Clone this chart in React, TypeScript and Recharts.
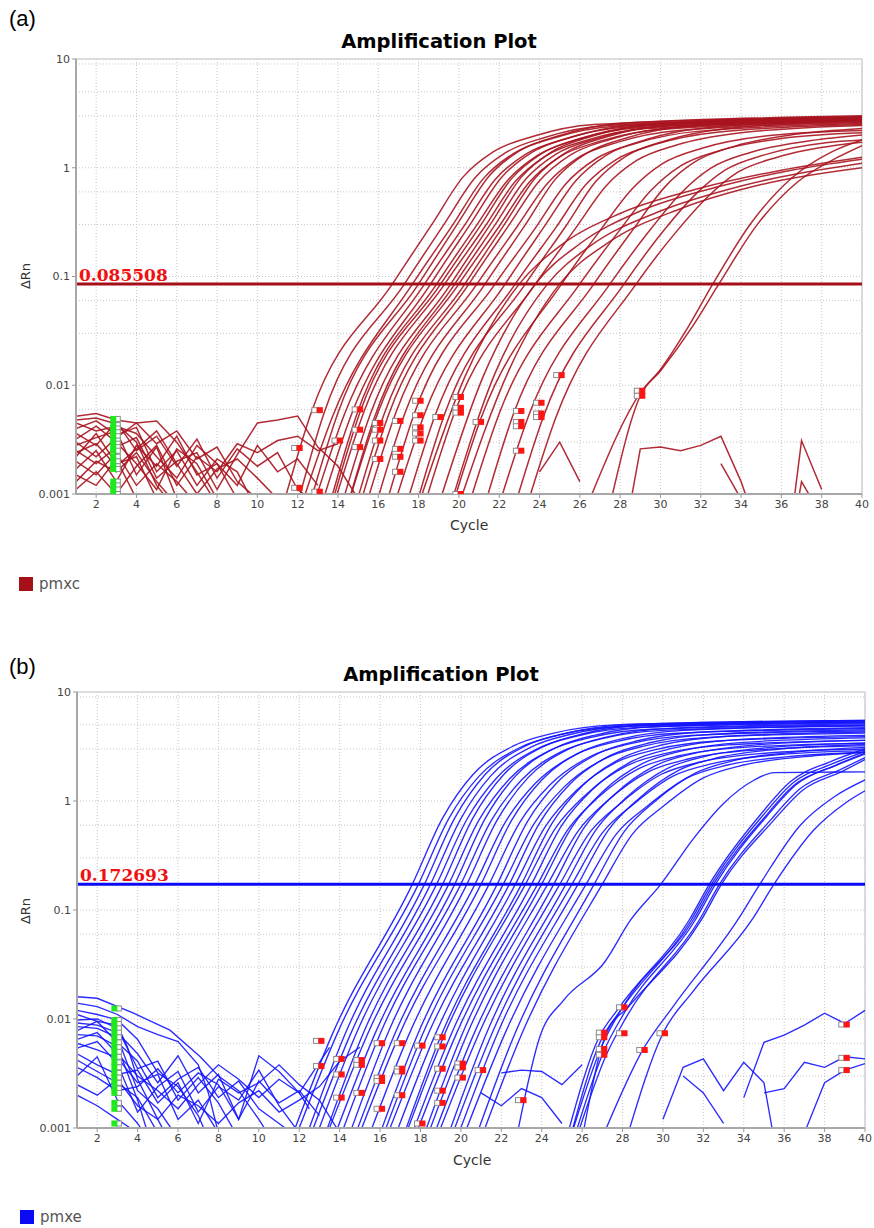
import { ComposedChart, Line, Scatter, XAxis, YAxis, ReferenceLine, CartesianGrid } from 'recharts';

type Pt = [number, number];

const cycleTicks = [2, 4, 6, 8, 10, 12, 14, 16, 18, 20, 22, 24, 26, 28, 30, 32, 34, 36, 38, 40];
const rnTicks = [0.001, 0.01, 0.1, 1, 10];
const rnGrid = [
  0.002, 0.003, 0.004, 0.005, 0.006, 0.007, 0.008, 0.009, 0.01,
  0.02, 0.03, 0.04, 0.05, 0.06, 0.07, 0.08, 0.09, 0.1,
  0.2, 0.3, 0.4, 0.5, 0.6, 0.7, 0.8, 0.9, 1,
  2, 3, 4, 5, 6, 7, 8, 9,
];

// ---------- plot (a) ----------
const thresholdA = 0.085508;

const curvesA: Pt[][] = [
  [[11.2, 0.0007], [12.7, 0.0058], [16.7, 0.0855], [18.7, 0.31], [20.2, 0.82], [21.7, 1.4], [23.7, 1.95], [26.7, 2.5], [40, 2.95]],
  [[11.8, 0.0006], [13.3, 0.0055], [17.3, 0.0855], [19.3, 0.31], [20.8, 0.81], [22.3, 1.37], [24.3, 1.91], [27.3, 2.45], [40, 2.9]],
  [[12.2, 0.0008], [13.7, 0.005], [17.7, 0.0855], [19.7, 0.3], [21.2, 0.79], [22.7, 1.35], [24.7, 1.88], [27.7, 2.41], [40, 2.85]],
  [[12.5, 0.0007], [14, 0.0056], [18, 0.0855], [20, 0.32], [21.5, 0.84], [23, 1.43], [25, 1.98], [28, 2.55], [40, 3.0]],
  [[12.8, 0.0008], [14.3, 0.0053], [18.3, 0.0855], [20.3, 0.3], [21.8, 0.78], [23.3, 1.33], [25.3, 1.85], [28.3, 2.37], [40, 2.8]],
  [[13.1, 0.0007], [14.6, 0.005], [18.6, 0.0855], [20.6, 0.31], [22.1, 0.81], [23.6, 1.38], [25.6, 1.92], [28.6, 2.46], [40, 2.9]],
  [[13.4, 0.0006], [14.9, 0.0052], [18.9, 0.0855], [20.9, 0.3], [22.4, 0.76], [23.9, 1.3], [25.9, 1.82], [28.9, 2.33], [40, 2.75]],
  [[13.6, 0.0007], [15.1, 0.0057], [19.1, 0.0855], [21.1, 0.3], [22.6, 0.79], [24.1, 1.35], [26.1, 1.88], [29.1, 2.41], [40, 2.85]],
  [[13.8, 0.0008], [15.3, 0.0058], [19.3, 0.0855], [21.3, 0.29], [22.8, 0.75], [24.3, 1.28], [26.3, 1.78], [29.3, 2.29], [40, 2.7]],
  [[14.1, 0.0007], [15.6, 0.0054], [19.6, 0.0855], [21.6, 0.31], [23.1, 0.82], [24.6, 1.4], [26.6, 1.95], [29.6, 2.5], [40, 2.95]],
  [[14.3, 0.0006], [15.8, 0.005], [19.8, 0.0855], [21.8, 0.3], [23.3, 0.78], [24.8, 1.33], [26.8, 1.85], [29.8, 2.37], [40, 2.8]],
  [[14.5, 0.0008], [16, 0.0057], [20, 0.0855], [22, 0.29], [23.5, 0.74], [25, 1.26], [27, 1.75], [30, 2.25], [40, 2.65]],
  [[14.8, 0.0007], [16.3, 0.0055], [20.3, 0.0855], [22.3, 0.31], [23.8, 0.81], [25.3, 1.38], [27.3, 1.92], [30.3, 2.46], [40, 2.9]],
  [[15, 0.0007], [16.5, 0.0053], [20.5, 0.0855], [22.5, 0.3], [24, 0.76], [25.5, 1.3], [27.5, 1.82], [30.5, 2.33], [40, 2.75]],
  [[15.4, 0.0008], [16.9, 0.0058], [20.9, 0.0855], [22.9, 0.29], [24.4, 0.72], [25.9, 1.23], [27.9, 1.72], [30.9, 2.2], [40, 2.6]],
  [[15.8, 0.0007], [17.3, 0.0054], [21.3, 0.0855], [23.3, 0.3], [24.8, 0.79], [26.3, 1.35], [28.3, 1.88], [31.3, 2.41], [40, 2.85]],
  [[16.3, 0.0007], [17.8, 0.0056], [21.8, 0.0855], [23.8, 0.28], [25.3, 0.71], [26.8, 1.21], [28.8, 1.68], [31.8, 2.16], [40, 2.55]],
  [[16.8, 0.0008], [18.3, 0.0055], [22.3, 0.0855], [24.3, 0.3], [25.8, 0.76], [27.3, 1.3], [29.3, 1.82], [32.3, 2.33], [40, 2.75]],
  [[17.3, 0.0007], [18.8, 0.0052], [22.8, 0.0855], [24.8, 0.28], [26.3, 0.7], [27.8, 1.19], [29.8, 1.65], [32.8, 2.12], [40, 2.5]],
  [[17.8, 0.0007], [19.3, 0.0055], [23.3, 0.0855], [25.3, 0.29], [26.8, 0.75], [28.3, 1.28], [30.3, 1.78], [33.3, 2.29], [40, 2.7]],
  [[18.3, 0.0008], [19.8, 0.0057], [23.8, 0.0855], [25.8, 0.28], [27.3, 0.68], [28.8, 1.16], [30.8, 1.62], [33.8, 2.08], [40, 2.45]],
  [[19.6, 0.0007], [21.1, 0.005], [25.1, 0.0855], [27.1, 0.28], [28.6, 0.64], [30.1, 1.09], [32.1, 1.52], [35.1, 1.95], [40, 2.2]],
  [[20.5, 0.0008], [22, 0.0055], [26, 0.0855], [28, 0.27], [29.5, 0.61], [31, 1.04], [33, 1.45], [36, 1.86], [40, 2.1]],
  [[21.2, 0.0007], [22.7, 0.0054], [26.7, 0.0855], [28.7, 0.28], [30.2, 0.66], [31.7, 1.13], [33.7, 1.58], [36.7, 2.03], [40, 2.3]],
  [[22, 0.0008], [23.5, 0.0055], [27.5, 0.0855], [29.5, 0.27], [31, 0.58], [32.5, 0.99], [34.5, 1.39], [37.5, 1.78], [40, 2.0]],
  [[22.7, 0.0007], [24.2, 0.0052], [28.2, 0.0855], [30.2, 0.27], [31.7, 0.56], [33.2, 0.95], [35.2, 1.32], [38.2, 1.7], [40, 1.8]],
  [[23.3, 0.0007], [24.8, 0.005], [28.8, 0.0855], [30.8, 0.26], [32.3, 0.53], [33.8, 0.9], [35.8, 1.25], [38.8, 1.62], [40, 1.72]],
];

// shallow curves that level off near 1
const shallowA: Pt[][] = [
  [[18, 0.0008], [20.3, 0.012], [23, 0.0855], [25, 0.19], [28, 0.38], [32, 0.65], [36, 0.95], [40, 1.25]],
  [[19, 0.0008], [21.2, 0.012], [23.8, 0.0855], [26, 0.2], [29, 0.4], [33, 0.68], [36.5, 0.95], [40, 1.2]],
  [[19.5, 0.0007], [21.8, 0.013], [24.4, 0.0855], [26.5, 0.19], [30, 0.4], [34, 0.68], [40, 1.1]],
  [[20, 0.0008], [22.5, 0.014], [25, 0.0855], [27.5, 0.21], [31, 0.42], [35, 0.7], [40, 1.0]],
];

const lateA: Pt[][] = [
  [[26.6, 0.001], [29, 0.0085], [30, 0.014], [31.4, 0.035], [32.6, 0.0855], [34.5, 0.31], [36.5, 0.8], [38.5, 1.4], [40, 1.8]],
  [[27.5, 0.0008], [29, 0.008], [30, 0.0135], [31.6, 0.035], [32.9, 0.0855], [34.8, 0.3], [36.8, 0.74], [38.8, 1.25], [40, 1.6]],
];

const noiseA: Pt[][] = [
  [[1, 0.0052], [2, 0.0055], [3, 0.0048], [4, 0.0045], [5, 0.0047], [6, 0.003], [7, 0.0016], [8, 0.0008]],
  [[1, 0.0048], [2, 0.005], [3, 0.0044], [4, 0.003], [5, 0.0012], [6, 0.0007]],
  [[1, 0.0045], [2, 0.0038], [3, 0.0042], [4, 0.0036], [5, 0.0022], [6, 0.0014], [7, 0.0028], [8, 0.0019], [9, 0.0009]],
  [[1, 0.004], [2, 0.0047], [3, 0.0035], [4, 0.0041], [5, 0.0016], [6, 0.0025], [7, 0.0012], [8, 0.0021], [9, 0.0016], [10, 0.0007]],
  [[1, 0.0036], [2, 0.0028], [3, 0.0046], [4, 0.0025], [5, 0.0034], [6, 0.0018], [7, 0.0032], [8, 0.0014], [9, 0.0026], [10, 0.0018], [11, 0.0024], [12, 0.0011], [13, 0.0008]],
  [[1, 0.0032], [2, 0.0042], [3, 0.003], [4, 0.0019], [5, 0.0011], [6, 0.0026], [7, 0.0019], [8, 0.0009]],
  [[1, 0.0028], [2, 0.0033], [3, 0.0038], [4, 0.0015], [5, 0.0027], [6, 0.0009]],
  [[1, 0.0025], [2, 0.0019], [3, 0.0027], [4, 0.0033], [5, 0.0014], [6, 0.002], [7, 0.0024], [8, 0.0011], [9, 0.0023], [10, 0.0045], [11, 0.0048], [12, 0.0052], [13, 0.0027], [14, 0.0018], [15, 0.0009]],
  [[1, 0.0022], [2, 0.0036], [3, 0.0019], [4, 0.0022], [5, 0.0009]],
  [[1, 0.002], [2, 0.0015], [3, 0.0024], [4, 0.0012], [5, 0.0019], [6, 0.0013], [7, 0.0008]],
  [[1, 0.0017], [2, 0.0025], [3, 0.0013], [4, 0.0028], [5, 0.0018], [6, 0.0034], [7, 0.0015], [8, 0.0019], [9, 0.0012], [10, 0.0028], [11, 0.0016], [12, 0.0021], [13, 0.0012]],
  [[1, 0.0015], [2, 0.0012], [3, 0.0021], [4, 0.0009]],
  [[1, 0.0013], [2, 0.002], [3, 0.0016], [4, 0.0024], [5, 0.0013], [6, 0.0008]],
  [[1, 0.0011], [2, 0.0016], [3, 0.001], [4, 0.0018], [5, 0.0028], [6, 0.0012], [7, 0.0022], [8, 0.0016], [9, 0.0029], [10, 0.0024], [11, 0.0031], [12, 0.0034], [13, 0.0025], [14, 0.0029]],
  [[1, 0.003], [2, 0.0022], [3, 0.0033], [4, 0.0045], [5, 0.0029], [6, 0.0038], [7, 0.0021], [8, 0.0027], [9, 0.0013], [10, 0.0009]],
  [[1, 0.0024], [2, 0.0029], [3, 0.0018], [4, 0.0026], [5, 0.0038], [6, 0.0019], [7, 0.001], [8, 0.0017], [9, 0.0021], [10, 0.0014], [11, 0.0009]],
  [[28.5, 0.0008], [29, 0.0026], [30, 0.0027], [31, 0.0025], [32, 0.0028], [33, 0.0034], [34, 0.0013], [34.3, 0.0009]],
  [[33, 0.0019], [34, 0.0009]],
  [[36.6, 0.0008], [37, 0.0031], [38, 0.0011]],
  [[24, 0.0016], [25, 0.003], [26, 0.0013]],
  [[36.8, 0.0008], [37, 0.0013], [37.5, 0.0009]],
];

const ctMarksA: Pt[] = [
  [12, 0.00265], [12, 0.00114], [13, 0.0059], [13, 0.00105], [14, 0.0031], [15, 0.006], [15, 0.0039], [15, 0.0027],
  [16, 0.0045], [16, 0.0039], [16, 0.0031], [16, 0.0021], [17, 0.0047], [17, 0.0026], [17, 0.0022], [17, 0.0016],
  [18, 0.0072], [18, 0.0053], [18, 0.0041], [18, 0.0036], [18, 0.0031], [19, 0.0051], [20, 0.0078], [20, 0.0062],
  [20, 0.0056], [20, 0.001], [21, 0.0046], [23, 0.0058], [23, 0.0046], [23, 0.0042], [23, 0.0025], [24, 0.0069],
  [24, 0.0055], [24, 0.0051], [25, 0.0124], [29, 0.0089], [29, 0.008],
];

const baseMarksA: Pt[] = [
  [2.85, 0.0049], [2.85, 0.0043], [2.85, 0.004], [2.85, 0.0037], [2.85, 0.0034], [2.85, 0.0031], [2.85, 0.0029],
  [2.85, 0.0027], [2.85, 0.0025], [2.85, 0.0022], [2.85, 0.002], [2.85, 0.0018], [2.85, 0.0017], [2.85, 0.0013],
  [2.85, 0.0012], [2.85, 0.0011], [2.85, 0.001],
];

// ---------- plot (b) ----------
const thresholdB = 0.172693;

const curvesB: Pt[][] = [
  [[11.6, 0.0008], [13.6, 0.007], [17.6, 0.1727], [19.1, 0.7], [20.6, 1.75], [22.6, 3.2], [24.6, 4.2], [27.6, 5.0], [40, 5.5]],
  [[11.9, 0.0009], [13.9, 0.0075], [17.9, 0.1727], [19.4, 0.69], [20.9, 1.69], [22.9, 3.08], [24.9, 4.05], [27.9, 4.82], [40, 5.3]],
  [[12.2, 0.0007], [14.2, 0.0068], [18.2, 0.1727], [19.7, 0.7], [21.2, 1.75], [23.2, 3.2], [25.2, 4.2], [28.2, 5.0], [40, 5.5]],
  [[12.5, 0.0008], [14.5, 0.007], [18.5, 0.1727], [20, 0.69], [21.5, 1.72], [23.5, 3.14], [25.5, 4.12], [28.5, 4.9], [40, 5.4]],
  [[12.8, 0.0008], [14.8, 0.0072], [18.8, 0.1727], [20.3, 0.68], [21.8, 1.65], [23.8, 3.02], [25.8, 3.97], [28.8, 4.73], [40, 5.2]],
  [[13.1, 0.0007], [15.1, 0.0069], [19.1, 0.1727], [20.6, 0.7], [22.1, 1.73], [24.1, 3.17], [26.1, 4.16], [29.1, 4.95], [40, 5.45]],
  [[13.4, 0.0009], [15.4, 0.0074], [19.4, 0.1727], [20.9, 0.67], [22.4, 1.59], [24.4, 2.91], [26.4, 3.82], [29.4, 4.55], [40, 5.0]],
  [[13.7, 0.0008], [15.7, 0.007], [19.7, 0.1727], [21.2, 0.69], [22.7, 1.69], [24.7, 3.08], [26.7, 4.05], [29.7, 4.82], [40, 5.3]],
  [[14, 0.0008], [16, 0.0073], [20, 0.1727], [21.5, 0.66], [23, 1.56], [25, 2.85], [27, 3.74], [30, 4.45], [40, 4.9]],
  [[14.3, 0.0007], [16.3, 0.0068], [20.3, 0.1727], [21.8, 0.67], [23.3, 1.62], [25.3, 2.97], [27.3, 3.9], [30.3, 4.64], [40, 5.1]],
  [[14.7, 0.0008], [16.7, 0.0071], [20.7, 0.1727], [22.2, 0.64], [23.7, 1.46], [25.7, 2.68], [27.7, 3.51], [30.7, 4.18], [40, 4.6]],
  [[15, 0.0009], [17, 0.0075], [21, 0.1727], [22.5, 0.66], [24, 1.56], [26, 2.85], [28, 3.74], [31, 4.45], [40, 4.9]],
  [[15.4, 0.0008], [17.4, 0.007], [21.4, 0.1727], [22.9, 0.63], [24.4, 1.4], [26.4, 2.56], [28.4, 3.36], [31.4, 4.0], [40, 4.4]],
  [[15.8, 0.0007], [17.8, 0.0068], [21.8, 0.1727], [23.3, 0.65], [24.8, 1.5], [26.8, 2.74], [28.8, 3.59], [31.8, 4.27], [40, 4.7]],
  [[16.1, 0.0008], [18.1, 0.0072], [22.1, 0.1727], [23.6, 0.61], [25.1, 1.34], [27.1, 2.44], [29.1, 3.21], [32.1, 3.82], [40, 4.2]],
  [[16.4, 0.0009], [18.4, 0.0074], [22.4, 0.1727], [23.9, 0.63], [25.4, 1.43], [27.4, 2.62], [29.4, 3.44], [32.4, 4.09], [40, 4.5]],
  [[16.7, 0.0008], [18.7, 0.007], [22.7, 0.1727], [24.2, 0.59], [25.7, 1.24], [27.7, 2.27], [29.7, 2.98], [32.7, 3.55], [40, 3.9]],
  [[17, 0.0007], [19, 0.0069], [23, 0.1727], [24.5, 0.62], [26, 1.37], [28, 2.5], [30, 3.28], [33, 3.91], [40, 4.3]],
  [[17.2, 0.0008], [19.2, 0.0073], [23.2, 0.1727], [24.7, 0.57], [26.2, 1.15], [28.2, 2.1], [30.2, 2.75], [33.2, 3.27], [40, 3.6]],
  [[17.5, 0.0008], [19.5, 0.0071], [23.5, 0.1727], [25, 0.6], [26.5, 1.27], [28.5, 2.33], [30.5, 3.05], [33.5, 3.64], [40, 4.0]],
  [[17.8, 0.0009], [19.8, 0.0075], [23.8, 0.1727], [25.3, 0.55], [26.8, 1.08], [28.8, 1.98], [30.8, 2.6], [33.8, 3.09], [40, 3.4]],
  [[18, 0.0007], [20, 0.0068], [24, 0.1727], [25.5, 0.58], [27, 1.21], [29, 2.21], [31, 2.9], [34, 3.45], [40, 3.8]],
  [[18.3, 0.0008], [20.3, 0.0072], [24.3, 0.1727], [25.8, 0.53], [27.3, 1.02], [29.3, 1.86], [31.3, 2.44], [34.3, 2.91], [40, 3.2]],
  [[18.6, 0.0008], [20.6, 0.007], [24.6, 0.1727], [26.1, 0.57], [27.6, 1.15], [29.6, 2.1], [31.6, 2.75], [34.6, 3.27], [40, 3.6]],
  [[18.9, 0.0009], [20.9, 0.0074], [24.9, 0.1727], [26.4, 0.52], [27.9, 0.95], [29.9, 1.75], [31.9, 2.29], [34.9, 2.73], [40, 3.0]],
  [[19.2, 0.0007], [21.2, 0.0069], [25.2, 0.1727], [26.7, 0.55], [28.2, 1.08], [30.2, 1.98], [32.2, 2.6], [35.2, 3.09], [40, 3.4]],
  [[19.5, 0.0008], [21.5, 0.0071], [25.5, 0.1727], [27, 0.51], [28.5, 0.92], [30.5, 1.69], [32.5, 2.21], [35.5, 2.64], [40, 2.9]],
  [[19.8, 0.0008], [21.8, 0.0073], [25.8, 0.1727], [27.3, 0.54], [28.8, 1.05], [30.8, 1.92], [32.8, 2.52], [35.8, 3.0], [40, 3.3]],
  [[20.2, 0.0009], [22.2, 0.0075], [26.2, 0.1727], [27.7, 0.5], [29.2, 0.89], [31.2, 1.63], [33.2, 2.14], [36.2, 2.55], [40, 2.8]],
  [[20.6, 0.0007], [22.6, 0.0068], [26.6, 0.1727], [28.1, 0.53], [29.6, 0.99], [31.6, 1.8], [33.6, 2.37], [36.6, 2.82], [40, 3.1]],
  [[21, 0.0008], [23, 0.0072], [27, 0.1727], [28.5, 0.5], [30, 0.89], [32, 1.63], [34, 2.14], [37, 2.55], [40, 2.8]],
];

const lateB: Pt[][] = [
  [[22.8, 0.0009], [23.9, 0.0068], [25.1, 0.015], [27.1, 0.033], [28.4, 0.081], [29.9, 0.1727], [31.5, 0.45], [33, 0.95], [34.5, 1.55], [35.5, 1.82], [40, 1.85]],
  [[25.3, 0.0009], [26.8, 0.0066], [27.8, 0.0125], [31.3, 0.081], [32.3, 0.1727], [34.8, 0.74], [36.3, 1.5], [38.3, 2.3], [40, 3.0]],
  [[25.4, 0.0008], [26.9, 0.0062], [27.9, 0.012], [31.4, 0.081], [32.4, 0.1727], [34.9, 0.72], [36.4, 1.45], [38.4, 2.2], [40, 2.85]],
  [[25.5, 0.0009], [27, 0.0058], [28, 0.0128], [31.5, 0.081], [32.5, 0.1727], [35, 0.7], [36.5, 1.4], [38.5, 2.1], [40, 2.7]],
  [[25.6, 0.0008], [27.1, 0.0052], [28.1, 0.0115], [31.6, 0.081], [32.6, 0.1727], [35.1, 0.71], [36.6, 1.42], [38.6, 2.15], [40, 2.75]],
  [[25.8, 0.0009], [27.2, 0.0047], [28.2, 0.0105], [31.8, 0.081], [32.8, 0.1727], [35.3, 0.66], [36.8, 1.3], [38.8, 1.95], [40, 2.5]],
  [[26, 0.0008], [27.2, 0.0074], [28.3, 0.013], [31.9, 0.081], [32.9, 0.1727], [35.4, 0.64], [36.9, 1.25], [38.9, 1.88], [40, 2.4]],
  [[27.2, 0.001], [29, 0.0052], [30.5, 0.013], [33.7, 0.081], [34.8, 0.1727], [36.8, 0.6], [38.5, 1.1], [40, 1.56]],
  [[28.2, 0.0008], [30, 0.0074], [31.5, 0.018], [34.4, 0.081], [35.5, 0.1727], [37.5, 0.55], [39, 0.95], [40, 1.24]],
];

const noiseB: Pt[][] = [
  [[1, 0.016], [2, 0.0155], [3.8, 0.0113], [5.6, 0.0079], [7.1, 0.0045], [8, 0.003], [9, 0.0022], [10, 0.0012], [10.6, 0.0008]],
  [[1, 0.014], [2, 0.013], [3, 0.011], [4, 0.0085], [5, 0.0072], [6, 0.0062], [7, 0.0038], [7.5, 0.0021], [8, 0.0009]],
  [[1, 0.012], [2, 0.011], [3, 0.0098], [4, 0.0065], [5, 0.0032], [6, 0.0024], [7, 0.0013], [7.5, 0.0008]],
  [[1, 0.011], [2, 0.0095], [3, 0.0088], [3.5, 0.0055], [4, 0.0028], [5, 0.0012], [5.5, 0.0008]],
  [[1, 0.0098], [2, 0.01], [3, 0.0082], [4, 0.0035], [5, 0.0041], [6, 0.0018], [7, 0.0029], [8, 0.0017], [9, 0.0008]],
  [[1, 0.0092], [2, 0.0088], [3, 0.0075], [4, 0.0048], [5, 0.0026], [6, 0.0046], [7, 0.0021], [8, 0.0031], [9, 0.0012], [10, 0.0046], [11, 0.0033], [12, 0.0021], [12.5, 0.0015]],
  [[1, 0.0085], [2, 0.0082], [3, 0.0068], [4, 0.0022], [5, 0.0015], [6, 0.0008]],
  [[1, 0.0078], [2, 0.0095], [3, 0.0061], [4, 0.0041], [5, 0.0019], [6, 0.0028], [7, 0.0036], [8, 0.0019], [9, 0.0027], [10, 0.0015], [11, 0.0011], [12, 0.0008]],
  [[1, 0.0072], [2, 0.007], [3, 0.0056], [4, 0.0018], [4.5, 0.0009]],
  [[1, 0.0065], [2, 0.0075], [3, 0.0048], [4, 0.003], [5, 0.0022], [6, 0.0015], [7, 0.0025], [8, 0.0038], [9, 0.0028], [10, 0.0019], [11, 0.0028], [12, 0.0021], [13, 0.004], [13.5, 0.0055]],
  [[1, 0.006], [2, 0.0052], [3, 0.0044], [4, 0.0026], [5, 0.0031], [6, 0.0012], [7, 0.0018], [8, 0.0009]],
  [[1, 0.0054], [2, 0.0062], [3, 0.0039], [4, 0.0014], [5, 0.0024], [6, 0.0033], [7, 0.0014], [8, 0.0024], [9, 0.0018], [10, 0.0034], [11, 0.0016], [12, 0.0009]],
  [[1, 0.0048], [2, 0.0038], [3, 0.0031], [4, 0.0034], [5, 0.0017], [6, 0.0026], [7, 0.0011], [8, 0.0028], [9, 0.0021], [10, 0.0026], [11, 0.0038], [12, 0.0025], [13, 0.0018], [14, 0.0009]],
  [[1, 0.0042], [2, 0.0033], [3, 0.0026], [4, 0.0019], [5, 0.0009]],
  [[1, 0.0036], [2, 0.0029], [3, 0.0022], [4, 0.0024], [5, 0.0035], [6, 0.0021], [7, 0.0032], [8, 0.0025], [9, 0.0012], [10, 0.0027], [11, 0.0017], [12, 0.0022], [13, 0.0013]],
  [[1, 0.003], [2, 0.0045], [3, 0.0018], [4, 0.0011], [4.5, 0.0008]],
  [[1, 0.0025], [2, 0.002], [3, 0.0028], [4, 0.0016], [5, 0.0012], [6, 0.002], [7, 0.0016], [8, 0.0011], [9, 0.0017], [10, 0.0022], [11, 0.0014], [12, 0.0018], [13, 0.0024], [14, 0.0041], [15, 0.0055]],
  [[1, 0.002], [2, 0.0016], [3, 0.0012], [4, 0.0009]],
  [[22, 0.0032], [23, 0.0034], [24, 0.0033], [25, 0.0025], [26, 0.0038]],
  [[21, 0.0021], [22, 0.0016], [23, 0.0023], [24, 0.0019], [25, 0.0011]],
  [[30, 0.0012], [31, 0.0036], [32, 0.0043], [33, 0.0022], [34, 0.004], [35, 0.0026], [35.4, 0.001]],
  [[31, 0.003], [32, 0.0021], [33, 0.0011]],
  [[34, 0.0019], [35, 0.0061], [36, 0.0071], [37, 0.0088], [38, 0.0113], [39, 0.0091], [40, 0.012]],
  [[35, 0.0021], [36, 0.0023], [37, 0.004], [38, 0.0036], [39, 0.0045], [40, 0.0043]],
  [[37.1, 0.001], [38, 0.0026], [39, 0.0034], [40, 0.0039]],
];

const ctMarksB: Pt[] = [
  [13, 0.0063], [13, 0.0037], [14, 0.0043], [14, 0.0031], [14, 0.0019], [15, 0.0042], [15, 0.0038], [15, 0.0021],
  [16, 0.006], [16, 0.0029], [16, 0.0027], [16, 0.0015], [17, 0.006], [17, 0.0035], [17, 0.0033], [17, 0.002],
  [18, 0.0057], [18, 0.0011], [19, 0.0068], [19, 0.0056], [19, 0.0035], [19, 0.0022], [19, 0.0017], [20, 0.0039],
  [20, 0.0036], [20, 0.0029], [21, 0.0034], [23, 0.0018], [27, 0.0075], [27, 0.0068], [27, 0.0053], [27, 0.0047],
  [28, 0.0128], [28, 0.0074], [29, 0.0052], [30, 0.0074], [39, 0.0089], [39, 0.0044], [39, 0.0034],
];

const baseMarksB: Pt[] = [
  [2.85, 0.0125], [2.85, 0.0098], [2.85, 0.009], [2.85, 0.0082], [2.85, 0.0075], [2.85, 0.0068], [2.85, 0.0061],
  [2.85, 0.0055], [2.85, 0.005], [2.85, 0.0045], [2.85, 0.004], [2.85, 0.0036], [2.85, 0.0032], [2.85, 0.0029],
  [2.85, 0.0026], [2.85, 0.0023], [2.85, 0.0021], [2.85, 0.0017], [2.85, 0.0015], [2.85, 0.0011],
];

const toPts = (list: Pt[]) => list.map(([x, y]) => ({ x, y }));

const CtMark = (props: any) => {
  const { cx, cy } = props;
  if (cx == null || cy == null) return null;
  return (
    <g>
      <rect x={cx - 6} y={cy - 2.5} width={5} height={5} fill="#fff" stroke="#8c8c8c" strokeWidth={1} />
      <rect x={cx - 1} y={cy - 3} width={6} height={6} fill="#ff1414" />
    </g>
  );
};

const BaseMark = (props: any) => {
  const { cx, cy } = props;
  if (cx == null || cy == null) return null;
  return (
    <g>
      <rect x={cx + 2} y={cy - 2.5} width={5} height={5} fill="#fff" stroke="#8c8c8c" strokeWidth={1} />
      <rect x={cx - 3} y={cy - 3} width={6} height={6} fill="#1ee81e" />
    </g>
  );
};

interface PlotProps {
  top: number;
  height: number;
  left: number;
  right: number;
  color: string;
  lineColor: string;
  lineWidth: number;
  threshold: number;
  curves: Pt[][];
  noise: Pt[][];
  ctMarks: Pt[];
  baseMarks: Pt[];
}

const AmpPlot = ({ top, height, left, right, color, lineColor, lineWidth, threshold, curves, noise, ctMarks, baseMarks }: PlotProps) => (
  <div style={{ position: 'absolute', left: 0, top, width: 874, height }}>
    <ComposedChart width={874} height={height} margin={{ top: 59, right, left, bottom: 0 }}>
      <CartesianGrid
        horizontalValues={rnGrid}
        verticalValues={cycleTicks}
        stroke="#c6c6c6"
        strokeDasharray="1 2"
      />
      <XAxis
        type="number"
        dataKey="x"
        domain={[1, 40]}
        ticks={cycleTicks}
        allowDataOverflow
        height={26}
        tickSize={4}
        axisLine={{ stroke: '#a8a8a8', strokeWidth: 2 }}
        tickLine={{ stroke: '#999' }}
        tick={{ fontSize: 11, fill: '#444', fontFamily: 'DejaVu Sans' }}
      />
      <YAxis
        type="number"
        dataKey="y"
        scale="log"
        domain={[0.001, 10]}
        ticks={rnTicks}
        allowDataOverflow
        width={46}
        tickSize={4}
        tickFormatter={(v: number) => String(v)}
        axisLine={{ stroke: '#a8a8a8', strokeWidth: 2 }}
        tickLine={{ stroke: '#999' }}
        tick={{ fontSize: 11, fill: '#444', fontFamily: 'DejaVu Sans' }}
      />
      <ReferenceLine y={10} stroke="#d0d0d0" strokeWidth={1.5} />
      <ReferenceLine x={40} stroke="#d0d0d0" strokeWidth={1.5} />
      {noise.map((n, i) => (
        <Line
          key={'n' + i}
          data={toPts(n)}
          dataKey="y"
          type="linear"
          stroke={lineColor}
          strokeWidth={lineWidth}
          strokeOpacity={0.9}
          dot={false}
          isAnimationActive={false}
        />
      ))}
      {curves.map((c, i) => (
        <Line
          key={'c' + i}
          data={toPts(c)}
          dataKey="y"
          type="monotone"
          stroke={lineColor}
          strokeWidth={lineWidth}
          strokeOpacity={0.9}
          dot={false}
          isAnimationActive={false}
        />
      ))}
      <ReferenceLine
        y={threshold}
        stroke={color}
        strokeWidth={3}
        label={{
          value: String(threshold),
          position: 'insideBottomLeft',
          offset: 3,
          fill: '#f01010',
          fontSize: 17,
          fontWeight: 'bold',
          fontFamily: 'DejaVu Serif',
        }}
      />
      <Scatter data={toPts(baseMarks)} dataKey="y" shape={BaseMark} isAnimationActive={false} />
      <Scatter data={toPts(ctMarks)} dataKey="y" shape={CtMark} isAnimationActive={false} />
    </ComposedChart>
  </div>
);

const textBase: React.CSSProperties = { position: 'absolute', whiteSpace: 'nowrap', lineHeight: 1 };

export default function App() {
  return (
    <div style={{ position: 'absolute', left: 0, top: 0, width: 874, height: 1228, background: '#fff', overflow: 'hidden' }}>
      {/* (a) */}
      <div style={{ ...textBase, left: 9, top: 8, fontSize: 22, fontFamily: 'Liberation Sans, Arial' }}>(a)</div>
      <div style={{ ...textBase, left: 0, width: 874, top: 32, textAlign: 'center', fontSize: 19.5, fontWeight: 'bold', fontFamily: 'DejaVu Sans', paddingLeft: 2 }}>Amplification Plot</div>
      <AmpPlot
        top={0}
        height={520}
        left={30}
        right={12}
        color="#a50f17"
        lineColor="#a8141f"
        lineWidth={1.5}
        threshold={thresholdA}
        curves={[...curvesA, ...shallowA, ...lateA]}
        noise={noiseA}
        ctMarks={ctMarksA}
        baseMarks={baseMarksA}
      />
      <div style={{ ...textBase, left: 25, top: 276, fontSize: 13, color: '#333', fontFamily: 'DejaVu Sans', transform: 'translate(-50%, -50%) rotate(-90deg)', transformOrigin: 'center' }}>ΔRn</div>
      <div style={{ ...textBase, left: 450, top: 518, fontSize: 14, color: '#333', fontFamily: 'DejaVu Sans' }}>Cycle</div>
      <div style={{ position: 'absolute', left: 19, top: 577, width: 14, height: 14, background: '#a50f17' }} />
      <div style={{ ...textBase, left: 39, top: 577, fontSize: 15, color: '#555', fontFamily: 'DejaVu Sans' }}>pmxc</div>

      {/* (b) */}
      <div style={{ ...textBase, left: 9, top: 656, fontSize: 22, fontFamily: 'Liberation Sans, Arial' }}>(b)</div>
      <div style={{ ...textBase, left: 0, width: 874, top: 665, textAlign: 'center', fontSize: 19.5, fontWeight: 'bold', fontFamily: 'DejaVu Sans', paddingLeft: 4 }}>Amplification Plot</div>
      <AmpPlot
        top={633}
        height={521}
        left={31}
        right={9}
        color="#0a0af5"
        lineColor="#1414ff"
        lineWidth={1.35}
        threshold={thresholdB}
        curves={[...curvesB, ...lateB]}
        noise={noiseB}
        ctMarks={ctMarksB}
        baseMarks={baseMarksB}
      />
      <div style={{ ...textBase, left: 25, top: 911, fontSize: 13, color: '#333', fontFamily: 'DejaVu Sans', transform: 'translate(-50%, -50%) rotate(-90deg)', transformOrigin: 'center' }}>ΔRn</div>
      <div style={{ ...textBase, left: 453, top: 1153, fontSize: 14, color: '#333', fontFamily: 'DejaVu Sans' }}>Cycle</div>
      <div style={{ position: 'absolute', left: 20, top: 1210, width: 14, height: 14, background: '#0a0af5' }} />
      <div style={{ ...textBase, left: 40, top: 1210, fontSize: 15, color: '#555', fontFamily: 'DejaVu Sans' }}>pmxe</div>
    </div>
  );
}
